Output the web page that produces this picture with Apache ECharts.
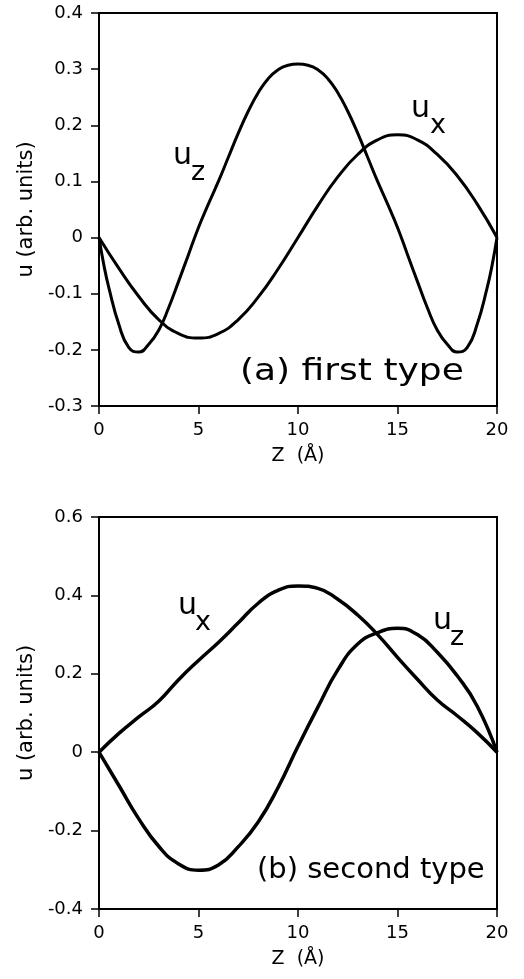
<!DOCTYPE html>
<html><head><meta charset="utf-8">
<script src="https://cdn.jsdelivr.net/npm/echarts@6/dist/echarts.min.js"></script>
<style>html,body{margin:0;padding:0;background:#fff}#c{width:524px;height:979px}</style>
</head><body><div id="c"></div>
<script>
// ---- data ----
const xName = 'Z  (Å)';
const yName = 'u (arb. units)';

// (a) first type
const aUzX = [0,0.25,0.5,1,1.5,2,2.5,3,3.5,4,4.5,5,5.5,6,6.5,7,7.5,8,8.5,9,9.5,10,10.5,11,11.5,12,12.5,13,13.5,14,14.5,15,15.5,16,16.5,17,17.5,18,18.5,19,19.5,19.75,20];
const aUzY = [0,-0.05,-0.09,-0.155,-0.196,-0.204,-0.19,-0.165,-0.125,-0.078,-0.03,0.018,0.06,0.1,0.143,0.186,0.225,0.258,0.283,0.299,0.307,0.309,0.307,0.299,0.283,0.258,0.225,0.186,0.143,0.1,0.06,0.018,-0.03,-0.078,-0.125,-0.165,-0.19,-0.204,-0.196,-0.155,-0.09,-0.05,0];
const aUxX = [0,1,2,3,4,5,6,7,8,9,10,11,12,13,14,15,16,17,18,19,20];
const aUxY = [0,-0.055,-0.105,-0.146,-0.171,-0.179,-0.171,-0.146,-0.106,-0.056,0,0.057,0.108,0.148,0.174,0.183,0.174,0.148,0.11,0.06,0];

// (b) second type
const bUxX = [0,1,2,3,4,5,6,7,8,9,10,11,12,13,14,15,16,17,18,19,20];
const bUxY = [0,0.048,0.09,0.13,0.185,0.234,0.28,0.33,0.38,0.413,0.424,0.418,0.39,0.35,0.3,0.242,0.186,0.133,0.093,0.05,0];
const bUzX = [0,1,2,3,4,5,6,7,8,9,10,11,12,13,14,15,16,17,18,19,20];
const bUzY = [0,-0.085,-0.17,-0.24,-0.285,-0.301,-0.288,-0.241,-0.178,-0.09,0.015,0.115,0.21,0.276,0.305,0.316,0.3,0.255,0.195,0.118,0];

const FONT = 'DejaVu Sans';
function pairs(xs, ys){ return xs.map((x,i)=>[x, ys[i]]); }
function fmt(v){ if (Math.abs(v) < 1e-9) return '0'; return (Math.round(v*10)/10).toFixed(1); }

const chart = echarts.init(document.getElementById('c'), null, {renderer:'canvas'});

function xAx(gi){
  return {
    gridIndex: gi, type:'value', min:0, max:20, interval:5,
    axisLine:{show:true, onZero:false, lineStyle:{color:'#000', width:2}},
    axisTick:{show:true, inside:false, length:8, lineStyle:{color:'#000', width:1.5}},
    axisLabel:{color:'#000', fontFamily:FONT, fontSize:18, margin:15},
    splitLine:{show:false},
    name: xName, nameLocation:'middle', nameGap:41,
    nameTextStyle:{color:'#000', fontFamily:FONT, fontSize:19}
  };
}
function yAx(gi, min, max, interval){
  return {
    gridIndex: gi, type:'value', min:min, max:max, interval:interval,
    axisLine:{show:true, onZero:false, lineStyle:{color:'#000', width:2}},
    axisTick:{show:true, inside:false, length:8, lineStyle:{color:'#000', width:1.5}},
    axisLabel:{color:'#000', fontFamily:FONT, fontSize:18, margin:16, formatter:fmt},
    splitLine:{show:false},
    name: yName, nameLocation:'middle', nameGap:57, nameRotate:90,
    nameTextStyle:{color:'#000', fontFamily:FONT, fontSize:21}
  };
}
function line(xi, data, w){
  return {type:'line', xAxisIndex:xi, yAxisIndex:xi, data:data, smooth:true, showSymbol:false, symbol:'none',
    lineStyle:{color:'#000', width:w}, z:3};
}
function txt(x, y, s, size, sx){
  return {type:'text', x:x, y:y, z:10, scaleX: sx || 1,
    style:{text:s, fill:'#000', font: size+'px "'+FONT+'"', textAlign:'left', textVerticalAlign:'middle'}};
}

chart.setOption({
  animation:false,
  backgroundColor:'#fff',
  grid:[
    {left:99, right:27, top:13, height:393, show:true, borderColor:'#000', borderWidth:2, backgroundColor:'transparent'},
    {left:99, right:27, top:517, height:392, show:true, borderColor:'#000', borderWidth:2, backgroundColor:'transparent'}
  ],
  xAxis:[xAx(0), xAx(1)],
  yAxis:[yAx(0,-0.3,0.4,0.1), yAx(1,-0.4,0.6,0.2)],
  series:[
    line(0, pairs(aUzX,aUzY), 3),
    line(0, pairs(aUxX,aUxY), 3),
    line(1, pairs(bUxX,bUxY), 3.5),
    line(1, pairs(bUzX,bUzY), 3.5)
  ],
  graphic:[
    txt(173,156,'u',30), txt(191,173,'z',27),
    txt(411,109,'u',30), txt(430,126,'x',27),
    txt(240,372,'(a) first type',30,1.2),
    txt(178,606,'u',30), txt(195,623,'x',27),
    txt(433,621,'u',30), txt(450,638,'z',27),
    txt(257,870,'(b) second type',29)
  ]
});
</script></body></html>
